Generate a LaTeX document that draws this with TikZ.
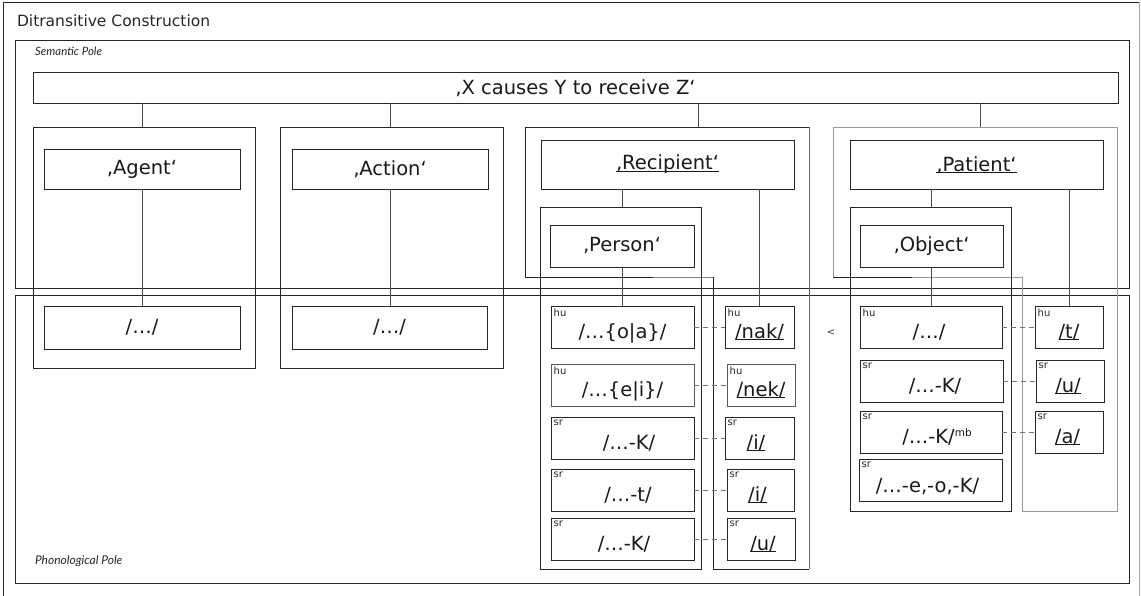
\documentclass[tikz,border=0pt]{standalone}
\usepackage{fontspec}
\setmainfont{DejaVu Sans}
\newfontfamily\polefont{Lato}
\usetikzlibrary{calc}
\newcommand\ulin[1]{\setbox0=\hbox{#1}\rlap{\rule[-1.8pt]{\wd0}{0.7pt}}\box0}
\newcommand\shx[2]{\hspace*{#1}#2}
\begin{document}
\begin{tikzpicture}[x=1pt,y=-1pt,
  box/.style={draw=black!85, line width=0.9pt, inner sep=0pt, outer sep=0pt, font=\fontsize{19.5}{21}\selectfont, text=black!90},
  ptext/.style={box, text height=24pt, text depth=2pt},
  ptag/.style={label={[anchor=north west, inner sep=0pt, xshift=2.5pt, yshift=-2.5pt, font=\fontsize{10}{11}\selectfont, text=black!85]north west:#1}},
  conn/.style={draw=black!70, line width=0.9pt},
  dconn/.style={draw=black!55, line width=0.8pt, dash pattern=on 5pt off 4pt},
  frame/.style={draw=black!85, line width=0.9pt, inner sep=0pt, outer sep=0pt},
  lframe/.style={draw=black!40, line width=0.9pt}
]
\useasboundingbox (0,0) rectangle (1141,596);
% outer frame
\draw[frame] (3,598) -- (3,2) -- (1139,2);
\draw[draw=black!35, line width=0.9pt] (1139,2) -- (1139,598);
\node[anchor=base west, font=\fontsize{15.5}{18}\selectfont, text=black!85] (title) at (13.5,27) {Ditransitive Construction};
% poles
\node[frame, minimum width=1114pt, minimum height=248pt] (sem) at (572,164) {};
\node[frame, minimum width=1114pt, minimum height=288pt] (phon) at (572,439) {};
\node[anchor=base west, font=\polefont\itshape\fontsize{11.5}{13}\selectfont, text=black!85] (semlab) at (31.5,56) {Semantic Pole};
\node[anchor=base west, font=\polefont\itshape\fontsize{12}{14}\selectfont, text=black!85] (phonlab) at (31.5,564) {Phonological Pole};
% top node
\node[box, minimum width=1085pt, minimum height=31pt] (top) at (575.5,88) {‚X causes Y to receive Z‘};
% groups
\node[frame, minimum width=222pt, minimum height=241pt] (agentgrp) at (144,247.5) {};
\node[frame, minimum width=223pt, minimum height=241pt] (actiongrp) at (391.5,247.5) {};
\draw[frame] (653,277.5) -- (525,277.5) -- (525,127) -- (809,127);
\draw[draw=black!60, line width=0.9pt] (809,127) -- (809,569);
\draw[frame] (809,569) -- (713,569) -- (713,277.5);
\draw[draw=black!50, line width=0.9pt] (713,277.5) -- (653,277.5);
\draw[frame] (912,277.5) -- (833,277.5);
\draw[lframe] (833,277.5) -- (833,127) -- (1117,127) -- (1117,511) -- (1022,511) -- (1022,277.5) -- (912,277.5);
\node[frame, minimum width=161pt, minimum height=362pt] (pcol) at (620.5,388) {};
\node[frame, minimum width=161pt, minimum height=304pt] (ocol) at (930.5,359) {};
% semantic nodes
\node[box, minimum width=196pt, minimum height=40pt] (agent) at (142,169) {‚Agent‘};
\node[box, minimum width=196pt, minimum height=40pt] (action) at (390,169) {‚Action‘};
\node[box, minimum width=253pt, minimum height=49pt] (recip) at (667.5,164.5) {\ulin{‚Recipient‘}};
\node[box, minimum width=253pt, minimum height=49pt] (patient) at (976.5,165) {\ulin{‚Patient‘}};
\node[box, minimum width=144pt, minimum height=42pt] (person) at (622,246) {‚Person‘};
\node[box, minimum width=143pt, minimum height=42pt] (object) at (931.5,246) {‚Object‘};
% phonological nodes
\node[box, minimum width=196pt, minimum height=43pt] (agentphon) at (142,327.5) {/…/};
\node[box, minimum width=195pt, minimum height=43pt] (actionphon) at (389.5,327.5) {/…/};
\node[ptext, ptag=hu, minimum width=143pt, minimum height=42pt] (poa) at (622.5,327) {/…\{o|a\}/};
\node[ptext, ptag=hu, minimum width=143pt, minimum height=42pt, draw=black!65] (pei) at (622.5,385) {/…\{e|i\}/};
\node[ptext, ptag=sr, minimum width=143pt, minimum height=42pt] (pk1) at (622.5,438) {\shx{13pt}{/…-K/}};
\node[ptext, ptag=sr, minimum width=143pt, minimum height=42pt] (pt) at (622.5,490) {\shx{11pt}{/…-t/}};
\node[ptext, ptag=sr, minimum width=143pt, minimum height=42pt] (pk2) at (622.5,539) {\shx{3pt}{/…-K/}};
\node[ptext, ptag=hu, minimum width=69pt, minimum height=42pt] (nak) at (759.5,327) {\ulin{/nak/}};
\node[ptext, ptag=hu, minimum width=68pt, minimum height=42pt, draw=black!65] (nek) at (761,385) {\ulin{/nek/}};
\node[ptext, ptag=sr, minimum width=69pt, minimum height=42pt] (i1) at (759.5,438) {\ulin{/i/}\hspace*{7pt}};
\node[ptext, ptag=sr, minimum width=67pt, minimum height=42pt] (i2) at (760.5,490) {\ulin{/i/}\hspace*{6pt}};
\node[ptext, ptag=sr, minimum width=68pt, minimum height=42pt] (u1) at (761,539) {\shx{4pt}{\ulin{/u/}}};
\node[ptext, ptag=hu, minimum width=142pt, minimum height=42pt] (o1) at (931,327) {/…/\hspace*{4pt}};
\node[ptext, ptag=sr, minimum width=143pt, minimum height=42pt] (o2) at (931.5,381) {\shx{7pt}{/…-K/}};
\node[ptext, ptag=sr, minimum width=142pt, minimum height=42pt] (o3) at (931,432) {\shx{12pt}{/…-K/\raisebox{7pt}{\fontsize{10.5}{10.5}\selectfont mb}}};
\node[box, ptag=sr, minimum width=143pt, minimum height=42pt, text height=27pt, text depth=2pt] (o4) at (930.5,480) {/…-e,-o,-K/\hspace*{6pt}};
\node[ptext, ptag=hu, minimum width=68pt, minimum height=42pt] (t1) at (1069,327) {\ulin{/t/}};
\node[ptext, ptag=sr, minimum width=68pt, minimum height=42pt] (u2) at (1070,381) {\ulin{/u/}\hspace*{4pt}};
\node[ptext, ptag=sr, minimum width=68pt, minimum height=42pt] (a1) at (1069,432) {\ulin{/a/}\hspace*{3pt}};
\node[font=\fontsize{10}{12}\selectfont, text=black!80] (lt) at (831,333) {<};
% connectors
\coordinate (rgtop) at (698,127);
\coordinate (pgtop) at (980,127);
\draw[conn] (top.south -| agent.north) -- (agentgrp.north -| agent.north);
\draw[conn] (top.south -| action.north) -- (actiongrp.north -| action.north);
\draw[conn] (top.south -| rgtop) -- (rgtop);
\draw[conn] (top.south -| pgtop) -- (pgtop);
\draw[conn] (agent.south) -- (agent.south |- agentphon.north);
\draw[conn] (action.south) -- (action.south |- actionphon.north);
\draw[conn] (recip.south -| person.north) -- (pcol.north -| person.north);
\draw[conn] (recip.south -| nak.north) -- (nak.north);
\draw[conn] (person.south) -- (person.south |- poa.north);
\draw[conn] (patient.south -| object.north) -- (ocol.north -| object.north);
\draw[conn] (patient.south -| t1.north) -- (t1.north);
\draw[conn] (object.south) -- (object.south |- o1.north);
\draw[dconn] (poa.east) -- (nak.west);
\draw[dconn] (pei.east) -- (nek.west);
\draw[dconn] (pk1.east) -- (i1.west);
\draw[dconn] (pt.east) -- (i2.west);
\draw[dconn] (pk2.east) -- (u1.west);
\draw[dconn] (o1.east) -- (t1.west);
\draw[dconn] (o2.east) -- (u2.west);
\draw[dconn] (o3.east) -- (a1.west);
\end{tikzpicture}
\end{document}
